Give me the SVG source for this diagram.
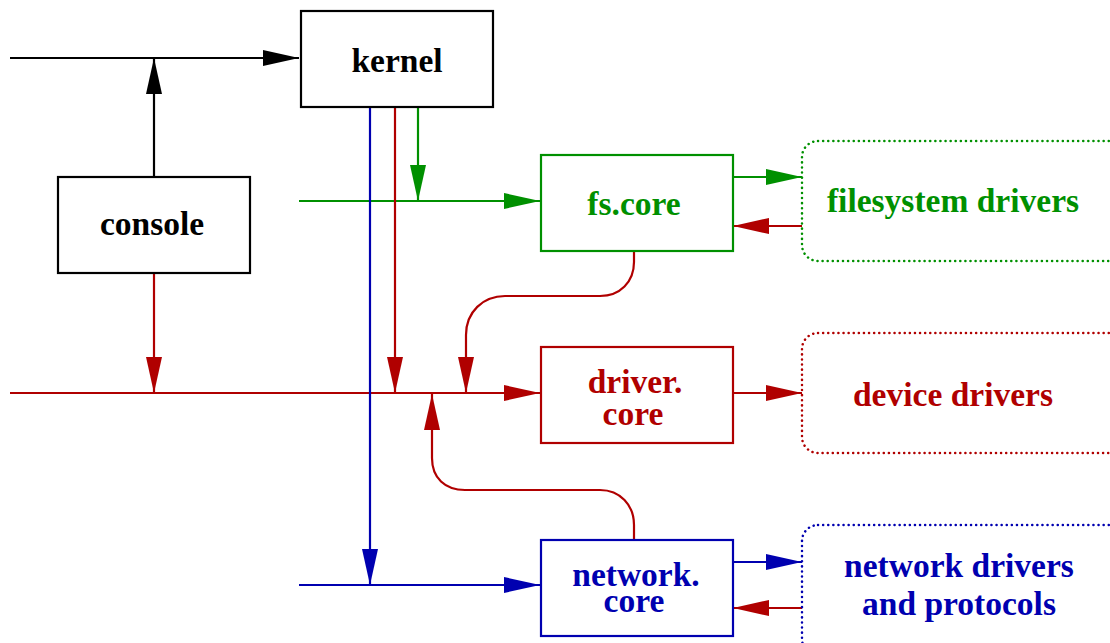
<svg xmlns="http://www.w3.org/2000/svg" width="1110" height="643" viewBox="0 0 1110 643">
<style>
.box{fill:#fff;stroke-width:2.2}
.dot{fill:#fff;stroke-width:2.5;stroke-dasharray:0.1 5;stroke-linecap:round}
.ln{fill:none;stroke-width:2.2}
.t{font-family:"Liberation Serif","Times New Roman",serif;font-weight:bold;font-size:33.5px;text-anchor:middle}
.k{stroke:#000}.g{stroke:#009000}.r{stroke:#b00000}.b{stroke:#0000b0}
.tk{fill:#000}.tg{fill:#009000}.tr{fill:#b00000}.tb{fill:#0000b0}
</style>
<defs>
<marker id="ak" markerUnits="userSpaceOnUse" markerWidth="36" markerHeight="16" refX="36" refY="8" orient="auto"><path d="M0,0 L36,8 L0,16 z" fill="#000"/></marker>
<marker id="ag" markerUnits="userSpaceOnUse" markerWidth="36" markerHeight="16" refX="36" refY="8" orient="auto"><path d="M0,0 L36,8 L0,16 z" fill="#009000"/></marker>
<marker id="ar" markerUnits="userSpaceOnUse" markerWidth="36" markerHeight="16" refX="36" refY="8" orient="auto"><path d="M0,0 L36,8 L0,16 z" fill="#b00000"/></marker>
<marker id="ab" markerUnits="userSpaceOnUse" markerWidth="36" markerHeight="16" refX="36" refY="8" orient="auto"><path d="M0,0 L36,8 L0,16 z" fill="#0000b0"/></marker>
</defs>
<rect width="1110" height="643" fill="#fff"/>
<g id="connectors">
<path class="ln k" d="M10,58 H299" marker-end="url(#ak)"/>
<path class="ln k" d="M154,177 V58" marker-end="url(#ak)"/>
<path class="ln g" d="M299,201 H540" marker-end="url(#ag)"/>
<path class="ln g" d="M418,107 V201" marker-end="url(#ag)"/>
<path class="ln r" d="M10,393 H540" marker-end="url(#ar)"/>
<path class="ln r" d="M154,273 V393" marker-end="url(#ar)"/>
<path class="ln r" d="M395,107 V393" marker-end="url(#ar)"/>
<path class="ln b" d="M370,107 V585" marker-end="url(#ab)"/>
<path class="ln b" d="M299,585 H540" marker-end="url(#ab)"/>
<path class="ln r" d="M634,251 V262 C634,282 620,296 600,296 H505 C483,296 466,312 466,335 V393" marker-end="url(#ar)"/>
<path class="ln r" d="M634,540 V525 C634,505 620,490 600,490 H465 C445,490 432,478 432,458 V394" marker-end="url(#ar)"/>
<path class="ln g" d="M733,177 H802" marker-end="url(#ag)"/>
<path class="ln r" d="M802,226 H733" marker-end="url(#ar)"/>
<path class="ln r" d="M733,393 H802" marker-end="url(#ar)"/>
<path class="ln b" d="M733,562 H802" marker-end="url(#ab)"/>
<path class="ln r" d="M802,608 H733" marker-end="url(#ar)"/>
</g>
<g id="kernel"><rect class="box k" x="301" y="11" width="192" height="96"/><text class="t tk" x="397" y="72">kernel</text></g>
<g id="console"><rect class="box k" x="58" y="177" width="192" height="96"/><text class="t tk" x="152" y="235">console</text></g>
<g id="fs-core"><rect class="box g" x="541" y="155" width="192" height="96"/><text class="t tg" x="634" y="215">fs.core</text></g>
<g id="driver-core"><rect class="box r" x="541" y="347" width="192" height="96"/><text class="t tr" x="635" y="393">driver.</text><text class="t tr" x="633" y="425">core</text></g>
<g id="network-core"><rect class="box b" x="541" y="540" width="192" height="96"/><text class="t tb" x="636" y="586">network.</text><text class="t tb" x="634" y="612">core</text></g>
<g id="filesystem-drivers"><rect class="dot g" x="802" y="141" width="330" height="120" rx="16"/><text class="t tg" x="953" y="212">filesystem drivers</text></g>
<g id="device-drivers"><rect class="dot r" x="802" y="333" width="330" height="120" rx="16"/><text class="t tr" x="953" y="406">device drivers</text></g>
<g id="network-drivers"><rect class="dot b" x="802" y="525" width="330" height="130" rx="16"/><text class="t tb" x="959" y="577">network drivers</text><text class="t tb" x="959" y="615">and protocols</text></g>
</svg>
